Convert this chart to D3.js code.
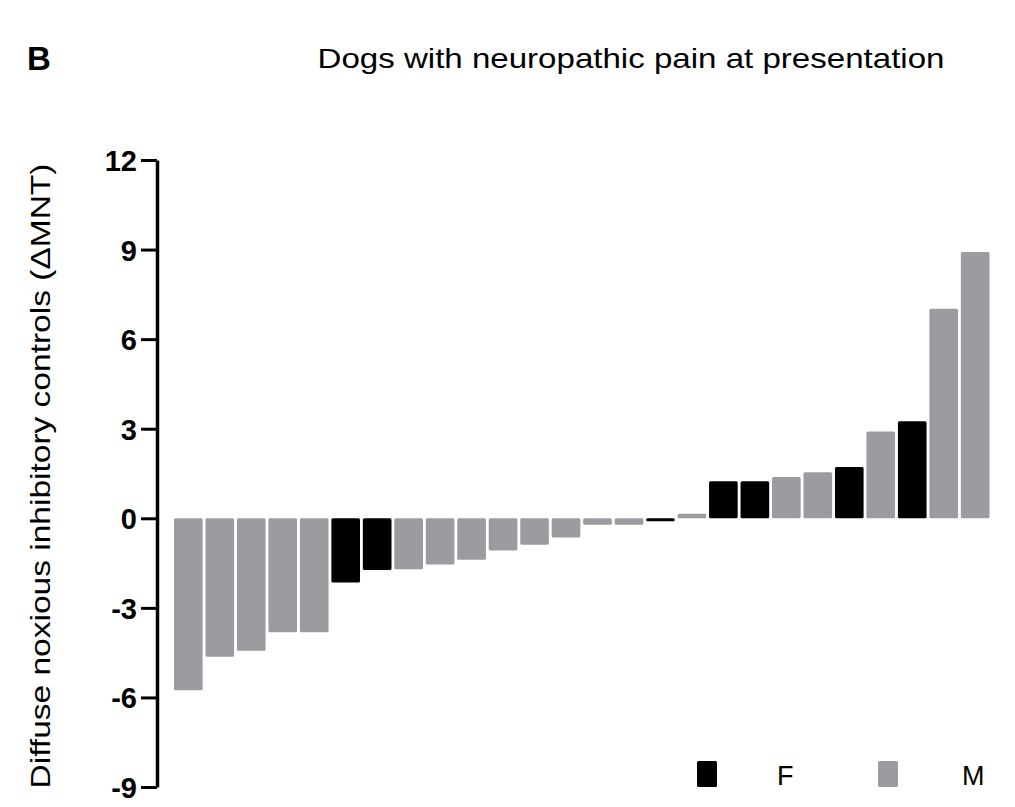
<!DOCTYPE html>
<html>
<head>
<meta charset="utf-8">
<script src="https://cdn.jsdelivr.net/npm/d3@7"></script>
<style>
  body { margin: 0; background: #fff; }
  text { font-family: "Liberation Sans", Arial, sans-serif; }
</style>
</head>
<body>
<div id="chart-container"></div>
<script>
// Data (one bar per dog, sorted by value)
const dogs = d3.range(1, 27).map(i => "Dog " + i);
const sex = ["M","M","M","M","M","F","F","M","M","M","M","M","M","M","M","F","M",
             "F","F","M","M","F","M","F","M","M"];
const dnic = [-5.76, -4.64, -4.44, -3.82, -3.82, -2.15, -1.73, -1.71, -1.55, -1.39,
              -1.08, -0.89, -0.64, -0.22, -0.22, -0.1, 0.15,
              1.24, 1.24, 1.38, 1.54, 1.72, 2.91, 3.25, 7.02, 8.92];
const yTicks = [-9, -6, -3, 0, 3, 6, 9, 12];
const legendKeys = ["F", "M"];
const colors = { F: "#000000", M: "#9c9ca0" };

const width = 1015;
const height = 807;

const svg = d3.select('#chart-container').append('svg')
  .attr('width', width)
  .attr('height', height);

// Scales
const xScale = d3.scaleBand()
  .domain(dogs)
  .range([174, 989.5])
  .paddingInner(0.09)
  .paddingOuter(0);

const yScale = d3.scaleLinear()
  .domain([-9, 12])
  .range([787, 160]);

// Bars
svg.selectAll('.bar')
  .data(dnic)
  .enter().append('rect')
  .attr('class', 'bar')
  .attr('x', (d, i) => xScale(dogs[i]))
  .attr('y', d => yScale(Math.max(0, d)))
  .attr('width', xScale.bandwidth())
  .attr('height', d => Math.max(3, Math.abs(yScale(d) - yScale(0))))
  .attr('rx', 1.5)
  .attr('fill', (d, i) => colors[sex[i]]);

// Y axis
const yAxis = svg.append('g')
  .attr('transform', 'translate(157,0)')
  .call(d3.axisLeft(yScale)
    .tickValues(yTicks)
    .tickFormat(d => String(d))
    .tickSize(16).tickPadding(4).tickSizeOuter(0));

yAxis.attr('font-size', 29).attr('font-weight', 'bold')
  .attr('font-family', '"Liberation Sans", Arial, sans-serif');
yAxis.select('.domain').attr('stroke', '#000').attr('stroke-width', 3.5);
yAxis.selectAll('.tick line').attr('stroke', '#000').attr('stroke-width', 3);
yAxis.selectAll('.tick text')
  .attr('fill', '#000')
  .attr('dy', '0.36em');

// Y axis label
svg.append('text')
  .attr('transform', 'translate(50,476) rotate(-90)')
  .attr('text-anchor', 'middle')
  .style('font-size', '28px')
  .attr('textLength', 625)
  .attr('lengthAdjust', 'spacingAndGlyphs')
  .text('Diffuse noxious inhibitory controls (ΔMNT)');

// Title and panel letter
svg.append('text')
  .attr('x', 631)
  .attr('y', 68)
  .attr('text-anchor', 'middle')
  .style('font-size', '28px')
  .attr('textLength', 627)
  .attr('lengthAdjust', 'spacingAndGlyphs')
  .text('Dogs with neuropathic pain at presentation');

svg.append('text')
  .attr('x', 27)
  .attr('y', 70)
  .style('font-size', '33px')
  .style('font-weight', 'bold')
  .text('B');

// Legend
const legendX = { F: 697, M: 878 };
const legend = svg.selectAll('.legend')
  .data(legendKeys)
  .enter().append('g')
  .attr('class', 'legend')
  .attr('transform', d => `translate(${legendX[d]},761)`);

legend.append('rect')
  .attr('width', 20)
  .attr('height', 26)
  .attr('rx', 1.5)
  .attr('fill', d => colors[d]);

legend.append('text')
  .attr('x', d => d === 'F' ? 80 : 84)
  .attr('y', 24)
  .style('font-size', '27px')
  .text(d => d);
</script>
</body>
</html>
